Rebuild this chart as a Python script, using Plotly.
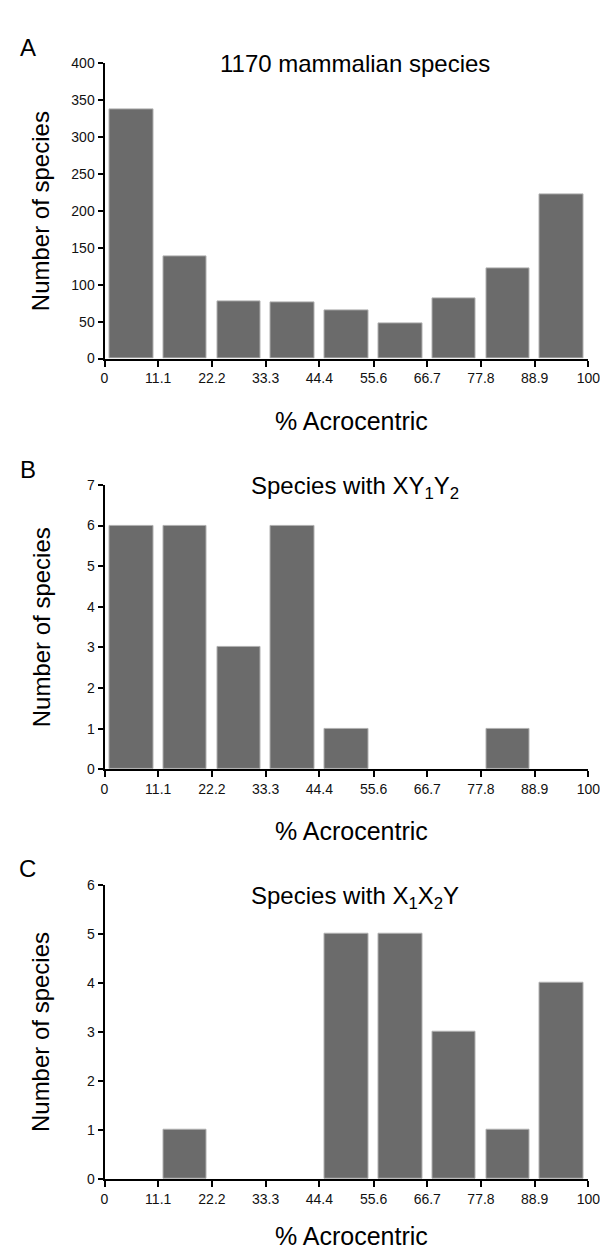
import plotly.graph_objects as go

# ---- data ----
bin_labels = ["0", "11.1", "22.2", "33.3", "44.4", "55.6", "66.7", "77.8", "88.9", "100"]
all_species = [338, 139, 77, 76, 65, 48, 81, 122, 222]
xy1y2_species = [6, 6, 3, 6, 1, 0, 0, 1, 0]
x1x2y_species = [0, 1, 0, 0, 5, 5, 3, 1, 4]

panel_letters = ["A", "B", "C"]
panel_titles = ["1170 mammalian species",
                "Species with XY<sub>1</sub>Y<sub>2</sub>",
                "Species with X<sub>1</sub>X<sub>2</sub>Y"]
y_ranges = [(0, 400, 50), (0, 7, 1), (0, 6, 1)]

edges = [float(v) for v in bin_labels]
centers = [(edges[i] + edges[i + 1]) / 2 for i in range(len(edges) - 1)]
widths = [(edges[i + 1] - edges[i]) * 0.81 for i in range(len(edges) - 1)]

W, H = 608, 1251
FONT = "Liberation Sans, Arial, sans-serif"

def py(px):
    return 1 - px / H

# pixel layout: (y of zero, y of top)
panels_px = [(347, 48), (763, 475), (1178, 880)]
title_px = [48, 478, 893]
xlabel_px = [410, 826, 1236]
x_dom = [95 / W, 592 / W]

fig = go.Figure()
series = [all_species, xy1y2_species, x1x2y_species]
annotations = []
for i, vals in enumerate(series):
    n = "" if i == 0 else str(i + 1)
    fig.add_trace(go.Bar(
        x=centers, y=vals, width=widths,
        marker=dict(color="#6b6b6b",
                    line=dict(color="#b0b0b0", width=[1 if v > 0 else 0 for v in vals])),
        xaxis="x" + n, yaxis="y" + n, showlegend=False, hoverinfo="x+y"))
    y0, y1 = panels_px[i]
    lo, hi, step = y_ranges[i]
    tickvals_y = list(range(lo, hi + 1, step))
    fig.update_layout(**{
        "xaxis" + n: dict(domain=x_dom, range=[0, 100], anchor="y" + n,
                          tickvals=edges, ticktext=bin_labels,
                          showline=True, linecolor="black", linewidth=2,
                          ticks="outside", ticklen=6, tickwidth=2, tickcolor="black",
                          showgrid=False, zeroline=False,
                          tickfont=dict(family=FONT, size=14, color="#111")),
        "yaxis" + n: dict(domain=[py(y0), py(y1)], range=[lo, hi], anchor="x" + n,
                          tickvals=tickvals_y,
                          showline=True, linecolor="black", linewidth=2,
                          ticks="outside", ticklen=5, tickwidth=2, tickcolor="black",
                          showgrid=False, zeroline=False,
                          tickfont=dict(family=FONT, size=14, color="#111")),
    })
    # panel letter
    annotations.append(dict(text=panel_letters[i], x=16 / W, y=py(y1 - 16), xref="paper", yref="paper",
                            xanchor="center", yanchor="middle", showarrow=False,
                            font=dict(family=FONT, size=24, color="black")))
    # title
    annotations.append(dict(text=panel_titles[i], x=352 / W, y=py(title_px[i]),
                            xref="paper", yref="paper",
                            xanchor="center", yanchor="middle", showarrow=False,
                            font=dict(family=FONT, size=24, color="black")))
    # y title
    annotations.append(dict(text="Number of species", x=30 / W, y=py((y0 + y1) / 2),
                            xref="paper", yref="paper", textangle=-90,
                            xanchor="center", yanchor="middle", showarrow=False,
                            font=dict(family=FONT, size=24, color="black")))
    # x title
    annotations.append(dict(text="% Acrocentric", x=349 / W, y=py(xlabel_px[i]),
                            xref="paper", yref="paper",
                            xanchor="center", yanchor="middle", showarrow=False,
                            font=dict(family=FONT, size=25, color="black")))

fig.update_layout(width=W, height=H, margin=dict(l=0, r=0, t=0, b=0),
                  paper_bgcolor="white", plot_bgcolor="white",
                  bargap=0, annotations=annotations, font=dict(family=FONT))

fig.write_html("out.html")
